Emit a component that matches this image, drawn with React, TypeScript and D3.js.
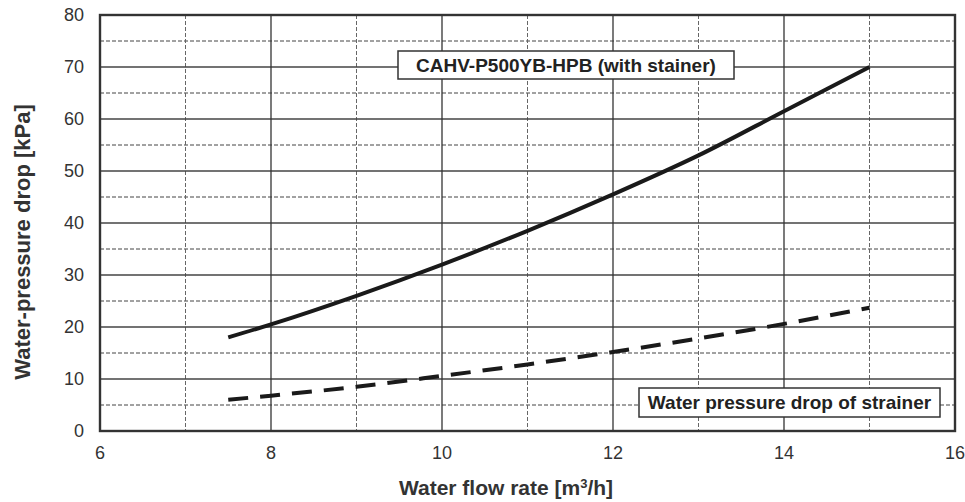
import React from "react";
import * as d3 from "d3";

const xTicks = [6, 8, 10, 12, 14, 16];
const yTicks = [0, 10, 20, 30, 40, 50, 60, 70, 80];
const xMinor = [7, 9, 11, 13, 15];
const yMinor = [5, 15, 25, 35, 45, 55, 65, 75];

const unitFlow = [7.5, 8, 9, 10, 11, 12, 13, 14, 15];
const unitDrop = [18, 20.5, 26, 32, 38.5, 45.5, 53, 61.5, 70];
const strainerFlow = [7.5, 8, 9, 10, 11, 12, 13, 14, 15];
const strainerDrop = [6, 6.8, 8.5, 10.6, 12.8, 15.2, 17.8, 20.6, 23.7];

const unitLabel = "CAHV-P500YB-HPB (with stainer)";
const strainerLabel = "Water pressure drop of strainer";

export default function App() {
  const W = 965, H = 502;
  const L = 100, R = 955, T = 15, B = 431;
  const x = d3.scaleLinear().domain([6, 16]).range([L, R]);
  const y = d3.scaleLinear().domain([0, 80]).range([B, T]);
  const line = d3.line<[number, number]>().x(d => x(d[0])).y(d => y(d[1])).curve(d3.curveMonotoneX);
  const unitPts = unitFlow.map((f, i) => [f, unitDrop[i]] as [number, number]);
  const strPts = strainerFlow.map((f, i) => [f, strainerDrop[i]] as [number, number]);
  const font = "Arial, 'Liberation Sans', sans-serif";
  return (
    <svg width={W} height={H} style={{ position: "absolute", left: 0, top: 0 }} fontFamily={font}>
      <rect width={W} height={H} fill="#fff" />
      {yMinor.map(v => (
        <line key={"ym" + v} x1={L} x2={R} y1={y(v)} y2={y(v)} stroke="#444" strokeWidth={1} strokeDasharray="4,2" />
      ))}
      {xMinor.map(v => (
        <line key={"xm" + v} x1={x(v)} x2={x(v)} y1={T} y2={B} stroke="#666" strokeWidth={1} strokeDasharray="4,2" />
      ))}
      {yTicks.slice(1, -1).map(v => (
        <line key={"y" + v} x1={L} x2={R} y1={y(v)} y2={y(v)} stroke="#444" strokeWidth={1.3} />
      ))}
      {xTicks.slice(1, -1).map(v => (
        <line key={"x" + v} x1={x(v)} x2={x(v)} y1={T} y2={B} stroke="#333" strokeWidth={1.3} />
      ))}
      <rect x={L} y={T} width={R - L} height={B - T} fill="none" stroke="#333" strokeWidth={2.4} />
      <path d={line(unitPts) || ""} fill="none" stroke="#1a1a1a" strokeWidth={4} />
      <path d={line(strPts) || ""} fill="none" stroke="#1a1a1a" strokeWidth={4} strokeDasharray="20,12" />
      {yTicks.map(v => (
        <text key={"yt" + v} x={L - 16} y={y(v)} dy="0.35em" textAnchor="end" fontSize={18} fill="#333">{v}</text>
      ))}
      {xTicks.map(v => (
        <text key={"xt" + v} x={x(v)} y={B + 22} dy="0.35em" textAnchor="middle" fontSize={18} fill="#333">{v}</text>
      ))}
      <g>
        <rect x={398} y={51} width={336} height={28} fill="#fff" stroke="#333" strokeWidth={1.5} />
        <text x={566} y={65} dy="0.35em" textAnchor="middle" fontSize={19} fontWeight="bold" fill="#222">{unitLabel}</text>
      </g>
      <g>
        <rect x={639} y={388} width={301} height={29} fill="#fff" stroke="#333" strokeWidth={1.5} />
        <text x={789.5} y={402.5} dy="0.35em" textAnchor="middle" fontSize={19} fontWeight="bold" fill="#222">{strainerLabel}</text>
      </g>
      <text x={506} y={495} textAnchor="middle" fontSize={21} fontWeight="bold" fill="#333">
        Water flow rate [m<tspan dy="-7" fontSize={13}>3</tspan><tspan dy="7">/h]</tspan>
      </text>
      <text transform={`translate(30,242) rotate(-90)`} textAnchor="middle" fontSize={22} fontWeight="bold" fill="#333">
        Water-pressure drop [kPa]
      </text>
    </svg>
  );
}
